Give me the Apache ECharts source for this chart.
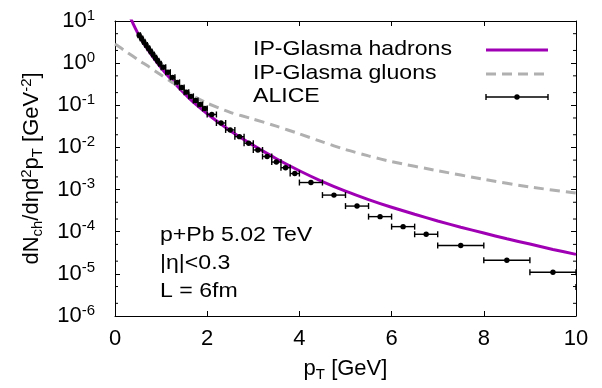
<!DOCTYPE html>
<html>
<head>
<meta charset="utf-8">
<script src="https://cdn.jsdelivr.net/npm/echarts@6/dist/echarts.min.js"></script>
<style>html,body{margin:0;padding:0;background:#fff}#c{width:602px;height:388px}</style>
</head>
<body>
<div id="c"></div>
<script>
// ---- data ----
const hadronX = [0.3,0.35,0.4,0.45,0.5,0.6,0.7,0.8,0.9,1.0,1.2,1.4,1.6,1.8,2.0,2.25,2.5,2.75,3.0,3.5,4.0,4.5,5.0,5.5,6.0,6.5,7.0,7.5,8.0,8.5,9.0,9.5,10.0];
const hadronY = [15,11,8.3,6.4,5.0,3.25,2.2,1.52,1.08,0.78,0.43,0.25,0.15,0.095,0.063,0.039,0.025,0.0165,0.0112,0.0054,0.0028,0.00155,0.00092,0.00058,0.00038,0.00026,0.00018,0.000128,0.000093,0.000068,0.000051,0.000038,0.000029];

const gluonX = [0,0.25,0.5,0.75,1.0,1.25,1.5,1.75,2.0,2.5,3.0,3.5,4.0,4.5,5.0,5.5,6.0,7.0,8.0,9.0,10.0];
const gluonY = [2.85,1.85,1.2,0.80,0.52,0.345,0.228,0.155,0.112,0.068,0.047,0.032,0.021,0.0135,0.0089,0.0063,0.0046,0.0028,0.00175,0.00115,0.00083];

const aliceX = [0.525,0.575,0.625,0.675,0.725,0.775,0.825,0.875,0.925,0.975,
  1.05,1.15,1.25,1.35,1.45,1.55,1.65,1.75,1.85,1.95,
  2.1,2.3,2.5,2.7,2.9,3.1,3.3,3.5,3.7,3.9,
  4.25,4.75,5.25,5.75,6.25,6.75,7.5,8.5,9.5,11];
const aliceXErr = [0.025,0.025,0.025,0.025,0.025,0.025,0.025,0.025,0.025,0.025,
  0.05,0.05,0.05,0.05,0.05,0.05,0.05,0.05,0.05,0.05,
  0.1,0.1,0.1,0.1,0.1,0.1,0.1,0.1,0.1,0.1,
  0.25,0.25,0.25,0.25,0.25,0.25,0.5,0.5,0.5,1];
const aliceY = [4.6,3.85,3.2,2.7,2.25,1.9,1.6,1.35,1.14,0.97,
  0.80,0.61,0.46,0.35,0.265,0.205,0.163,0.13,0.104,0.084,
  0.0605,0.038,0.026,0.018,0.0126,0.0087,0.0061,0.0045,0.0033,0.0024,
  0.00147,0.00074,0.000406,0.000228,0.000132,0.000087,0.000047,0.000021,0.0000109,0.0000049];

const xTicks = [0,2,4,6,8,10];
const yTickValues = [1e-6,1e-5,1e-4,1e-3,1e-2,1e-1,1,10];
const yTickExps = ['-6','-5','-4','-3','-2','-1','0','1'];
const yMinorTicks = [2e-6,5e-6,2e-5,5e-5,2e-4,5e-4,2e-3,5e-3,2e-2,5e-2,2e-1,5e-1,2,5];

const legendNames = ['IP-Glasma hadrons','IP-Glasma gluons','ALICE'];
const noteLines = ['p+Pb 5.02 TeV','|\u03b7|<0.3','L = 6fm'];

// ---- styles ----
const FONT = 'Liberation Sans';
const FS = 21;
const TFS = 22;
const MAGENTA = '#a000b4';
const GREY = '#b0b0b0';

const chart = echarts.init(document.getElementById('c'), null, {renderer:'canvas'});

const rich = {
  b:{fontFamily:FONT,fontSize:TFS,color:'#000',lineHeight:26},
  s:{fontFamily:FONT,fontSize:15,color:'#000',lineHeight:15,verticalAlign:'top'},
  u:{fontFamily:FONT,fontSize:15,color:'#000',lineHeight:15,verticalAlign:'bottom'}
};

function yFmt(v){
  let best = 0, bd = 1e9;
  for (let i=0;i<yTickValues.length;i++){
    const d = Math.abs(Math.log10(v)-Math.log10(yTickValues[i]));
    if (d<bd){bd=d;best=i;}
  }
  return '{b|10}{s|'+yTickExps[best]+'}';
}

const gridL = 115, gridR = 26, gridT = 21, gridB = 72;
const txt = (s, top, left) => ({type:'text',left:left,top:top,scaleX:1.1,
  style:{text:s,font:FS+'px "'+FONT+'"',fill:'#000'}});

const option = {
  backgroundColor:'#fff',
  animation:false,
  grid:{left:gridL,right:gridR,top:gridT,bottom:gridB,containLabel:false},
  xAxis:[{
    type:'value',min:0,max:10,interval:2,position:'bottom',
    axisLine:{show:true,onZero:false,lineStyle:{color:'#000',width:1}},
    axisTick:{show:true,inside:true,length:5,lineStyle:{color:'#000'}},
    axisLabel:{fontFamily:FONT,fontSize:TFS,color:'#000',margin:12},
    splitLine:{show:false},
    name:'{b|p}{u|T}{b| [GeV]}',nameLocation:'middle',nameGap:40,
    nameTextStyle:{rich:rich}
  },{
    type:'value',min:0,max:10,interval:2,position:'top',
    axisLine:{show:true,onZero:false,lineStyle:{color:'#000',width:1}},
    axisTick:{show:true,inside:true,length:5,lineStyle:{color:'#000'}},
    axisLabel:{show:false},splitLine:{show:false}
  }],
  yAxis:[{
    type:'log',logBase:10,min:1e-6,max:10,splitNumber:7,position:'left',
    axisLine:{show:true,onZero:false,lineStyle:{color:'#000',width:1}},
    axisTick:{show:true,inside:true,length:5,lineStyle:{color:'#000'}},
    axisLabel:{formatter:yFmt,rich:rich,margin:20,align:'right'},
    splitLine:{show:false},
    name:'{b|dN}{u|ch}{b|/d\u03b7d}{s|2}{b|p}{u|T}{b| [GeV}{s|-2}{b|]}',
    nameLocation:'middle',nameGap:70,nameRotate:90,
    nameTextStyle:{rich:rich}
  },{
    type:'log',logBase:10,min:1e-6,max:10,splitNumber:7,position:'right',
    axisLine:{show:true,onZero:false,lineStyle:{color:'#000',width:1}},
    axisTick:{show:true,inside:true,length:5,lineStyle:{color:'#000'}},
    axisLabel:{show:false},splitLine:{show:false}
  }],
  series:[
    {
      name:legendNames[0],type:'line',xAxisIndex:0,yAxisIndex:0,
      data:hadronX.map((x,i)=>[x,hadronY[i]]),
      showSymbol:false,smooth:0.2,clip:true,
      lineStyle:{color:MAGENTA,width:3},z:2
    },
    {
      name:legendNames[1],type:'line',xAxisIndex:0,yAxisIndex:0,
      data:gluonX.map((x,i)=>[x,gluonY[i]]),
      showSymbol:false,smooth:0.2,clip:true,
      lineStyle:{color:GREY,width:3,type:[10,6]},z:3
    },
    {
      name:legendNames[2],type:'custom',xAxisIndex:0,yAxisIndex:0,clip:true,z:4,
      data:aliceX.map((x,i)=>[x,aliceY[i],aliceXErr[i]]),
      encode:{x:0,y:1},
      renderItem:function(params,api){
        const x=api.value(0), y=api.value(1), e=api.value(2);
        const p=api.coord([x,y]), pl=api.coord([x-e,y]), pr=api.coord([x+e,y]);
        const st={stroke:'#000',lineWidth:1.4};
        return {type:'group',children:[
          {type:'line',shape:{x1:pl[0],y1:pl[1],x2:pr[0],y2:pr[1]},style:st},
          {type:'line',shape:{x1:pl[0],y1:pl[1]-3,x2:pl[0],y2:pl[1]+3},style:st},
          {type:'line',shape:{x1:pr[0],y1:pr[1]-3,x2:pr[0],y2:pr[1]+3},style:st},
          {type:'circle',shape:{cx:p[0],cy:p[1],r:2.7},style:{fill:'#000'}}
        ]};
      }
    },
    {
      name:'minorTicks',type:'custom',xAxisIndex:0,yAxisIndex:0,silent:true,z:5,
      data:yMinorTicks.map(v=>[0,v]),
      encode:{x:0,y:1},
      renderItem:function(params,api){
        const v=api.value(1);
        const a=api.coord([0,v]), b=api.coord([10,v]);
        const st={stroke:'#000',lineWidth:1};
        return {type:'group',children:[
          {type:'line',shape:{x1:a[0],y1:a[1],x2:a[0]+3,y2:a[1]},style:st},
          {type:'line',shape:{x1:b[0]-3,y1:b[1],x2:b[0],y2:b[1]},style:st}
        ]};
      }
    }
  ],
  graphic:[
    txt(legendNames[0],39,253),
    txt(legendNames[1],63,253),
    txt(legendNames[2],86,253),
    {type:'line',shape:{x1:486,y1:50,x2:548,y2:50},style:{stroke:MAGENTA,lineWidth:3}},
    {type:'line',shape:{x1:486,y1:74,x2:548,y2:74},style:{stroke:GREY,lineWidth:3,lineDash:[10,6]}},
    {type:'line',shape:{x1:486,y1:97,x2:548,y2:97},style:{stroke:'#000',lineWidth:1.4}},
    {type:'line',shape:{x1:486,y1:94,x2:486,y2:100},style:{stroke:'#000',lineWidth:1.4}},
    {type:'line',shape:{x1:548,y1:94,x2:548,y2:100},style:{stroke:'#000',lineWidth:1.4}},
    {type:'circle',shape:{cx:517,cy:97,r:2.7},style:{fill:'#000'}},
    txt(noteLines[0],225,160),
    txt(noteLines[1],253,160),
    txt(noteLines[2],281,160)
  ]
};
chart.setOption(option);
</script>
</body>
</html>
